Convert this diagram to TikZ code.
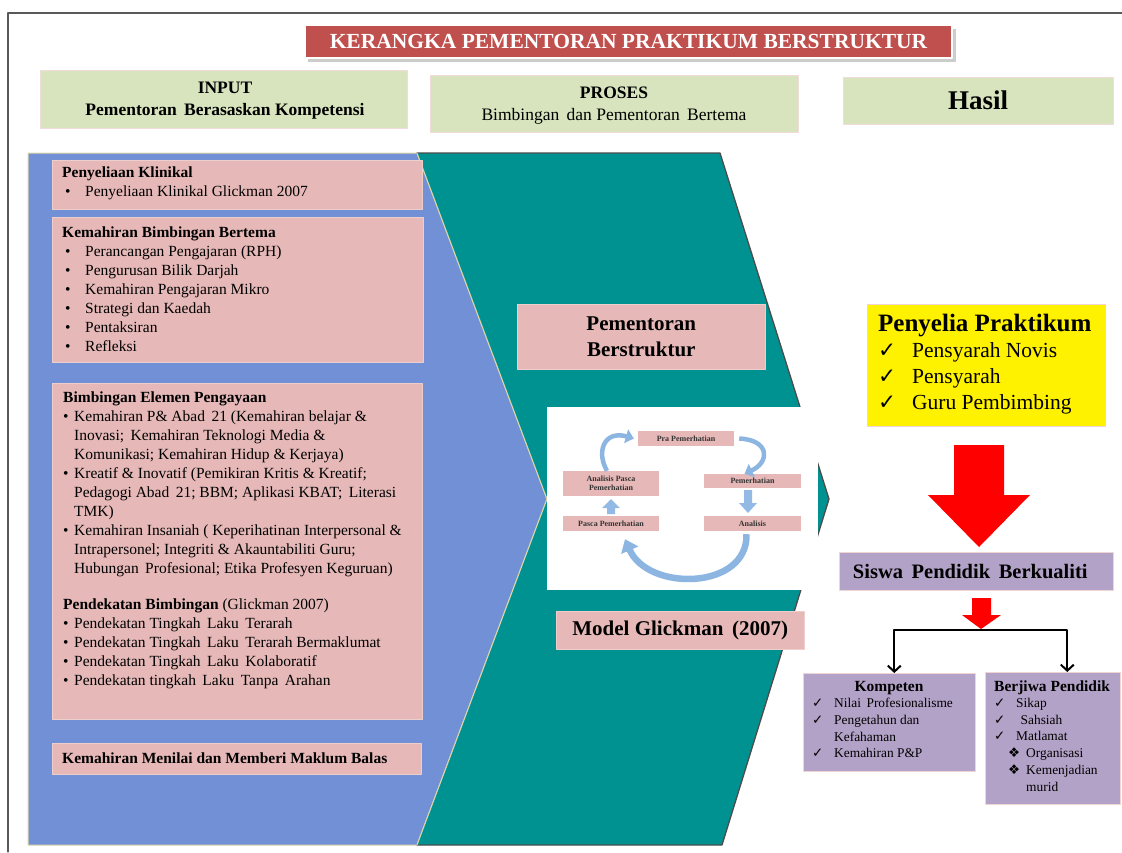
\documentclass[tikz,border=0pt]{standalone}
\usepackage{fontspec}
\setmainfont{Liberation Serif}
\newfontfamily\symfont{DejaVu Sans}
\usetikzlibrary{arrows,arrows.meta,positioning}
\definecolor{merahtajuk}{HTML}{C0504D}
\definecolor{hijaumuda}{HTML}{D7E4BD}
\definecolor{merahjambu}{HTML}{E6B9B8}
\definecolor{birupanah}{HTML}{7190D6}
\definecolor{hijaulaut}{HTML}{009191}
\definecolor{ungu}{HTML}{B3A2C7}
\definecolor{birukitar}{HTML}{6FA3DB}
\definecolor{kuningair}{HTML}{DDD6A8}
\newcommand{\tanda}{{\symfont\char"2713}}
\newcommand{\berlian}{{\symfont\char"2756}}
\newcommand{\butir}{\hspace*{3pt}\makebox[20pt][l]{•}}
\newcommand{\butirb}{\makebox[11pt][l]{•}}

\begin{document}
\begin{tikzpicture}[line cap=round,line join=round,x=1pt,y=-1pt,
    tajukbox/.style={fill=merahtajuk,draw=white,line width=1.5pt,text=white,
      font=\bfseries\fontsize{21.5}{24}\selectfont},
    hijaubox/.style={fill=hijaumuda,draw=merahjambu!50,line width=0.8pt,align=center},
    jambubox/.style={fill=merahjambu,draw=merahjambu!70,line width=0.6pt,anchor=north west,inner sep=0pt},
    teks/.style={anchor=north west,inner sep=0pt,align=left,font=\fontsize{15.5}{19}\selectfont},
    kitarbox/.style={fill=merahjambu,inner sep=0pt,minimum width=96,align=center,
      font=\bfseries\fontsize{8}{8.5}\selectfont,text=black!80},
    panahkitar/.style={draw=birukitar!80,line width=4.5pt,line cap=butt,-{Triangle[length=8pt,width=14pt]}},
    unguBox/.style={fill=ungu,draw=merahjambu!60,line width=0.6pt,anchor=north west,inner sep=0pt},
    cabangpanah/.style={line width=2pt,line cap=butt,-{Straight Barb[length=6pt,width=13pt]}}]

\useasboundingbox (0,0) rectangle (1122,852);
% bingkai
\draw[black!65,line width=1.2pt] (8,852) -- (8,13) -- (1122,13);

% tajuk
\fill[black!20] (308,29) rectangle (956,62);
\node[tajukbox,minimum width=647,minimum height=33] (tajuk) at (628.5,41.5) {KERANGKA PEMENTORAN PRAKTIKUM BERSTRUKTUR};

% kepala lajur
\node[hijaubox,minimum width=367,minimum height=58] (input) at (223.5,99) {};
\node[align=center,font=\bfseries\fontsize{17.5}{22}\selectfont] (inputteks) at (225,101) {INPUT\\Pementoran\, Berasaskan Kompetensi};
\node[hijaubox,minimum width=368,minimum height=57] (proses) at (614,103.5) {};
\node[align=center,font=\fontsize{17.5}{22}\selectfont] (prosesteks) at (614,106) {\textbf{PROSES}\\Bimbingan\, dan Pementoran\, Bertema};
\node[hijaubox,minimum width=270,minimum height=47,font=\bfseries\fontsize{27}{30}\selectfont] (hasil) at (978,100.5) {Hasil};

% anak panah besar
\draw[fill=birupanah,draw=kuningair,line width=1pt] (28,153) -- (417,153) -- (547,499) -- (417,845) -- (28,845) -- cycle;
\fill[hijaulaut] (417,153) -- (720,153) -- (829,499) -- (722,845) -- (417,845) -- (547,499) -- cycle;
\draw[black!70,line width=1.3pt] (417,153) -- (720,153) -- (829,499) -- (722,845) -- (417,845);
\draw[kuningair,line width=1pt] (417,153) -- (547,499) -- (417,845);

% input
\node[jambubox,minimum width=370,minimum height=49] (klinik) at (52,160) {};
\node[teks] (klinikteks) at (62,167) {\textbf{Penyeliaan Klinikal}\\\butir Penyeliaan Klinikal Glickman 2007};

\node[jambubox,minimum width=371,minimum height=145] (bertema) at (52,217) {};
\node[teks] (bertemateks) at (62,227) {\textbf{Kemahiran Bimbingan Bertema}\\
\butir Perancangan Pengajaran (RPH)\\
\butir Pengurusan Bilik Darjah\\
\butir Kemahiran Pengajaran Mikro\\
\butir Strategi dan Kaedah\\
\butir Pentaksiran\\
\butir Refleksi};

\node[jambubox,minimum width=370,minimum height=336] (elemen) at (52,383) {};
\node[teks] (elementeks) at (63,392) {\textbf{Bimbingan Elemen Pengayaan}\\
\butirb Kemahiran P\& Abad\, 21 (Kemahiran belajar \&\\
\hspace*{11pt}Inovasi;\, Kemahiran Teknologi Media \&\\
\hspace*{11pt}Komunikasi; Kemahiran Hidup \& Kerjaya)\\
\butirb Kreatif \& Inovatif (Pemikiran Kritis \& Kreatif;\\
\hspace*{11pt}Pedagogi Abad\, 21; BBM; Aplikasi KBAT;\, Literasi\\
\hspace*{11pt}TMK)\\
\butirb Kemahiran Insaniah ( Keperihatinan Interpersonal \&\\
\hspace*{11pt}Intrapersonel; Integriti \& Akauntabiliti Guru;\\
\hspace*{11pt}Hubungan\, Profesional; Etika Profesyen Keguruan)\\[17pt]
\textbf{Pendekatan Bimbingan} (Glickman 2007)\\
\butirb Pendekatan Tingkah\, Laku\, Terarah\\
\butirb Pendekatan Tingkah\, Laku\, Terarah Bermaklumat\\
\butirb Pendekatan Tingkah\, Laku\, Kolaboratif\\
\butirb Pendekatan tingkah\, Laku\, Tanpa\, Arahan};

\node[jambubox,minimum width=369,minimum height=31] (menilai) at (52,743) {};
\node[teks,font=\bfseries\fontsize{15.5}{19}\selectfont] (menilaiteks) at (62,753) {Kemahiran Menilai dan Memberi Maklum Balas};

% proses
\node[jambubox,minimum width=248,minimum height=65] (berstruktur) at (517,304) {};
\node[align=center,font=\bfseries\fontsize{21}{26}\selectfont] (berstrukturteks) at (berstruktur.center) {Pementoran\\Berstruktur};

\fill[white] (547,407) rectangle (818,590);
\node[kitarbox,minimum height=15] (pra) at (686,438.5) {Pra Pemerhatian};
\node[kitarbox,minimum height=25] (anpasca) at (611,483.5) {Analisis Pasca\\Pemerhatian};
\node[kitarbox,minimum width=97,minimum height=14] (pemer) at (752.5,481) {Pemerhatian};
\node[kitarbox,minimum height=15] (pasca) at (611,523.5) {Pasca Pemerhatian};
\node[kitarbox,minimum width=97,minimum height=15] (analisis) at (752.5,523.5) {Analisis};

\draw[panahkitar] ([xshift=-4pt]anpasca.north) .. controls (596,452) and (604,430) .. ([xshift=-4pt]pra.west);
\draw[panahkitar] ([xshift=5pt]pra.east) .. controls (770,440) and (770,462) .. ([xshift=-8pt]pemer.north);
\draw[panahkitar,line width=6.5pt,-{Triangle[length=12pt,width=18pt]}] ([xshift=-6pt,yshift=-3pt]analisis.south) .. controls (748,590) and (648,592) .. ([xshift=14pt,yshift=-8pt]pasca.south);
\fill[birukitar!75] (744,490) -- (752,490) -- (752,503) -- (757,503) -- (748,513) -- (739,503) -- (744,503) -- cycle;
\fill[birukitar!75] (607,514) -- (615,514) -- (615,508) -- (620,508) -- (611,499) -- (602,508) -- (607,508) -- cycle;

\node[jambubox,minimum width=248,minimum height=38] (glickman) at (556,611) {};
\node[font=\bfseries\fontsize{21}{24}\selectfont] (glickmanteks) at (glickman.center) {Model Glickman\, (2007)};

% hasil
\node[fill=yellow,draw=merahjambu!60,line width=0.6pt,anchor=north west,inner sep=0pt,minimum width=238,minimum height=122] (penyelia) at (867,304) {};
\node[anchor=north west,inner sep=0pt,align=left,font=\fontsize{21.5}{26}\selectfont] (penyeliateks) at (878,314) {{\bfseries\fontsize{25}{26}\selectfont Penyelia Praktikum}\\
\makebox[34pt][l]{\tanda}Pensyarah Novis\\
\makebox[34pt][l]{\tanda}Pensyarah\\
\makebox[34pt][l]{\tanda}Guru Pembimbing};

\fill[red] (954,445) -- (1004,445) -- (1004,495) -- (1030,495) -- (979,547) -- (928,495) -- (954,495) -- cycle;

\node[unguBox,minimum width=274,minimum height=38] (siswa) at (839,552) {};
\node[font=\bfseries\fontsize{20.5}{24}\selectfont] (siswateks) at ([xshift=-6pt]siswa.center) {Siswa\, Pendidik\, Berkualiti};

\fill[red] (972,598) -- (991,598) -- (991,615) -- (1001,615) -- (981,629) -- (962,615) -- (972,615) -- cycle;
\coordinate (cabang) at (981,630);

\node[unguBox,minimum width=172,minimum height=98] (kompeten) at (803,673) {};
\node[unguBox,minimum width=135,minimum height=132] (berjiwa) at (985,672) {};
\draw[cabangpanah] (cabang) -| ([xshift=5pt]kompeten.north);
\draw[cabangpanah] (cabang) -| ([xshift=14.5pt]berjiwa.north);

\node[font=\bfseries\fontsize{15.5}{16.5}\selectfont] (kompetenjudul) at (889,688) {Kompeten};
\node[anchor=north west,inner sep=0pt,align=left,font=\fontsize{13.4}{16.7}\selectfont] (kompetenteks) at (812,698) {\makebox[22pt][l]{\tanda}Nilai\, Profesionalisme\\
\makebox[22pt][l]{\tanda}Pengetahun dan\\
\hspace*{22pt}Kefahaman\\
\makebox[22pt][l]{\tanda}Kemahiran P\&P};

\node[font=\bfseries\fontsize{15.5}{16.5}\selectfont,anchor=west,inner sep=0pt] (berjiwajudul) at (994,688) {Berjiwa Pendidik};
\node[anchor=north west,inner sep=0pt,align=left,font=\fontsize{13.4}{16.7}\selectfont] (berjiwateks) at (994,698) {\makebox[22pt][l]{\tanda}Sikap\\
\makebox[22pt][l]{\tanda}\,\,Sahsiah\\
\makebox[22pt][l]{\tanda}Matlamat\\
\hspace*{14pt}\makebox[18pt][l]{\berlian}Organisasi\\
\hspace*{14pt}\makebox[18pt][l]{\berlian}Kemenjadian\\
\hspace*{32pt}murid};

\end{tikzpicture}
\end{document}
